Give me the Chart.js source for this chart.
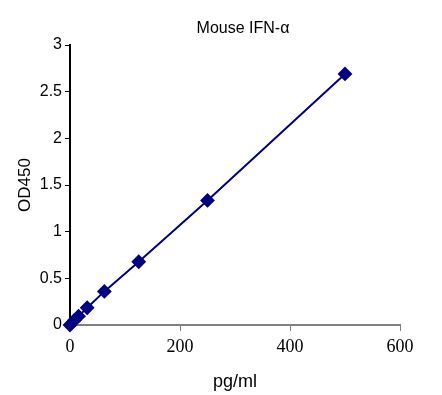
<!DOCTYPE html>
<html>
<head>
<meta charset="utf-8">
<script src="https://cdn.jsdelivr.net/npm/chart.js@4/dist/chart.umd.min.js"></script>
<style>
html,body{margin:0;padding:0;background:#fff;}
#wrap{width:442px;height:395px;}
</style>
</head>
<body>
<div id="wrap"><canvas id="c" width="442" height="395"></canvas></div>
<script>
const chartTitle = "Mouse IFN-α";
const xAxisLabel = "pg/ml";
const yAxisLabel = "OD450";
const concentrations = [0, 7.8, 15.6, 31.25, 62.5, 125, 250, 500];
const odValues = [0, 0.05, 0.095, 0.185, 0.36, 0.678, 1.335, 2.69];
const xTicks = [0, 200, 400, 600];
const yTicks = [0, 0.5, 1, 1.5, 2, 2.5, 3];

const points = concentrations.map((x, i) => ({x: x, y: odValues[i]}));

const titlePlugin = {
  id: 'customTitle',
  afterDraw(chart) {
    const ctx = chart.ctx;
    ctx.save();
    ctx.font = '16px "Liberation Sans", Arial, sans-serif';
    ctx.fillStyle = '#000';
    ctx.textAlign = 'center';
    ctx.textBaseline = 'middle';
    ctx.fillText(chartTitle, 243, 29);
    ctx.restore();
  }
};

new Chart(document.getElementById('c'), {
  type: 'scatter',
  data: {
    datasets: [{
      data: points,
      showLine: true,
      borderColor: '#000080',
      backgroundColor: '#000080',
      borderWidth: 2,
      pointStyle: 'rectRot',
      pointRadius: 6,
      pointHoverRadius: 6,
      clip: false
    }]
  },
  options: {
    responsive: false,
    animation: false,
    events: [],
    layout: { padding: { top: 45, right: 42, bottom: 0, left: 0 } },
    plugins: { legend: { display: false }, tooltip: { enabled: false } },
    scales: {
      x: {
        type: 'linear',
        min: 0, max: 600,
        afterBuildTicks(s) { s.ticks = xTicks.map(v => ({value: v})); },
        afterFit(s) { s.height = 70; },
        border: { display: true, color: '#808080', width: 2 },
        grid: { drawOnChartArea: false, drawTicks: true, tickLength: 6, tickColor: '#808080', tickWidth: 1 },
        ticks: { color: '#000', padding: 5, callback: v => String(v), font: { family: '"Liberation Serif", serif', size: 18 } },
        title: { display: true, text: xAxisLabel, color: '#000', font: { family: '"Liberation Sans", Arial, sans-serif', size: 18 }, padding: { top: 0, bottom: 2 } }
      },
      y: {
        type: 'linear',
        min: 0, max: 3,
        afterBuildTicks(s) { s.ticks = yTicks.map(v => ({value: v})); },
        afterFit(s) { s.width = 70; },
        border: { display: true, color: '#000', width: 2 },
        grid: { drawOnChartArea: false, drawTicks: true, tickLength: 5, tickColor: '#000', tickWidth: 1 },
        ticks: { color: '#000', padding: 3, callback: v => String(v), font: { family: '"Liberation Sans", Arial, sans-serif', size: 16 } },
        title: { display: true, text: yAxisLabel, color: '#000', font: { family: '"Liberation Sans", Arial, sans-serif', size: 17 }, padding: { top: 15, bottom: 0 } }
      }
    }
  },
  plugins: [titlePlugin]
});
</script>
</body>
</html>
